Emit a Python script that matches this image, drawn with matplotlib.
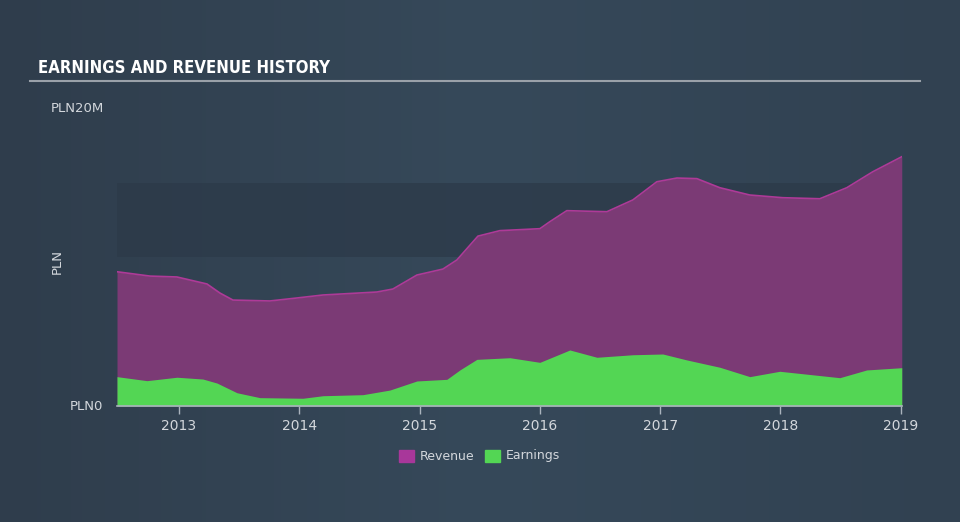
"""Earnings and revenue history chart (PLN)."""
import numpy as np
import matplotlib
matplotlib.use("Agg")
import matplotlib.pyplot as plt

# values in PLN millions
rev_years = [2012.485, 2012.759, 2012.983, 2013.233, 2013.341, 2013.449, 2013.756, 2013.981,
             2014.197, 2014.645, 2014.778, 2014.978, 2015.086, 2015.194, 2015.31, 2015.485,
             2015.668, 2016.0, 2016.083, 2016.224, 2016.557, 2016.773, 2016.972, 2017.139,
             2017.305, 2017.496, 2017.745, 2018.019, 2018.327, 2018.551, 2018.767, 2019.008]
revenue = [9.01, 8.72, 8.66, 8.19, 7.58, 7.11, 7.05, 7.25,
           7.45, 7.65, 7.85, 8.79, 8.99, 9.19, 9.8, 11.4,
           11.77, 11.9, 12.37, 13.11, 13.04, 13.83, 15.05, 15.3,
           15.26, 14.65, 14.16, 13.98, 13.91, 14.65, 15.72, 16.73]
earn_years = [2012.485, 2012.734, 2012.983, 2013.199, 2013.316, 2013.482, 2013.673, 2014.031,
              2014.197, 2014.529, 2014.753, 2014.978, 2015.227, 2015.335, 2015.476, 2015.751,
              2016.0, 2016.249, 2016.474, 2016.773, 2017.022, 2017.222, 2017.496, 2017.745,
              2017.994, 2018.493, 2018.717, 2019.008]
earnings = [1.97, 1.7, 1.93, 1.81, 1.54, 0.89, 0.56, 0.52,
            0.69, 0.76, 1.07, 1.68, 1.79, 2.42, 3.13, 3.24,
            2.93, 3.76, 3.27, 3.44, 3.49, 3.09, 2.6, 1.97,
            2.33, 1.9, 2.42, 2.57]
year_ticks = [2013, 2014, 2015, 2016, 2017, 2018, 2019]

BG = "#334353"
REV_FILL = "#7b3a75"
REV_EDGE = "#ae3a98"
EARN = "#53d654"
TXT = "#d3d7dc"

fig = plt.figure(figsize=(9.6, 5.22), dpi=100)
fig.patch.set_facecolor(BG)

# subtle horizontal gradient for the background
bg = fig.add_axes([0, 0, 1, 1], zorder=-10)
grad = np.linspace(0, 1, 256).reshape(1, -1)
cmap = matplotlib.colors.LinearSegmentedColormap.from_list("bg", ["#2f3d4c", "#36495a", "#314151"])
bg.imshow(grad, aspect="auto", cmap=cmap, extent=[0, 1, 0, 1])
bg.axis("off")

ax = fig.add_axes([117 / 960, 1 - 406 / 522, (902 - 117) / 960, (406 - 108) / 522])
ax.set_facecolor("none")
ax.axhspan(10, 15, color="#2c3a49", alpha=0.75, lw=0, zorder=0)

ax.fill_between(rev_years, revenue, color=REV_FILL, lw=0, zorder=2)
ax.plot(rev_years, revenue, color=REV_EDGE, lw=1.2, zorder=3, solid_joinstyle="round")
ax.fill_between(earn_years, earnings, color=EARN, lw=0, zorder=4)

ax.set_xlim(2012.485, 2019.01)
ax.set_ylim(0, 20)

for s in ["top", "right", "left"]:
    ax.spines[s].set_visible(False)
ax.spines["bottom"].set_color("#aab3bd")
ax.spines["bottom"].set_linewidth(1.2)
ax.spines["bottom"].set_zorder(5)

ax.set_xticks(year_ticks)
ax.set_xticklabels([str(y) for y in year_ticks])
ax.tick_params(axis="x", colors="#aab3bd", labelcolor=TXT, labelsize=10, length=6, width=1, pad=3)
ax.set_yticks([])

# y labels placed like the reference
fig.text(51 / 960, 1 - 108 / 522, "PLN20M", color=TXT, fontsize=9.5, va="center", ha="left")
fig.text(70 / 960, 1 - 406 / 522, "PLN0", color=TXT, fontsize=9.5, va="center", ha="left")
fig.text(57 / 960, 1 - 262 / 522, "PLN", color=TXT, fontsize=9.5, va="center", ha="center",
         rotation=90)

# title and underline
fig.text(38 / 960, 1 - 68 / 522, "EARNINGS AND REVENUE HISTORY", color="white",
         fontsize=12, fontweight="bold", fontstretch="condensed", va="center", ha="left")
fig.add_artist(plt.Line2D([30 / 960, 920 / 960], [1 - 81 / 522, 1 - 81 / 522],
                          color="#9aa1a9", lw=1.5))

# legend
leg_y = 1 - 456 / 522
for x0, col, lab in [(399, "#a8379a", "Revenue"), (485, EARN, "Earnings")]:
    fig.patches.append(matplotlib.patches.Rectangle((x0 / 960, leg_y - 6 / 522), 15 / 960, 12 / 522,
                                                    transform=fig.transFigure, color=col))
    fig.text((x0 + 21) / 960, leg_y, lab, color=TXT, fontsize=9, va="center", ha="left")

fig.savefig("out.png", dpi=100, facecolor=BG)
